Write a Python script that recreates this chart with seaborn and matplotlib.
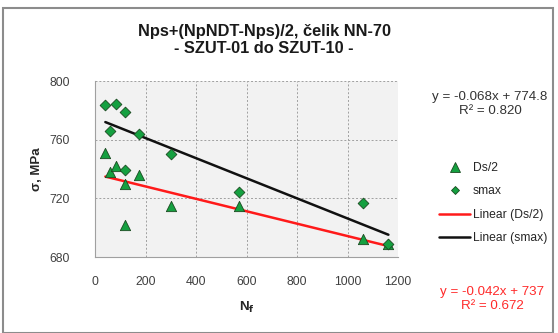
import numpy as np
import pandas as pd
import matplotlib
matplotlib.use("Agg")
import matplotlib.pyplot as plt
import seaborn as sns
from matplotlib.lines import Line2D
from matplotlib.patches import Rectangle

# ---- data ----
nf = [41, 84, 117, 61, 173, 120, 300, 569, 1063, 1162]
smax = [783.6, 784.0, 779.0, 766.0, 763.6, 739.5, 750.0, 724.0, 716.5, 689.0]
nf_ds = [41, 61, 84, 117, 120, 173, 300, 569, 1063, 1162]
ds2 = [751.0, 738.0, 742.0, 730.0, 702.0, 736.0, 714.7, 715.0, 692.0, 689.0]
x_ticks = [0, 200, 400, 600, 800, 1000, 1200]
y_ticks = [680, 720, 760, 800]
title = "Nps+(NpNDT-Nps)/2, čelik NN-70\n- SZUT-01 do SZUT-10 -"
eq_smax = "y = -0.068x + 774.8\nR² = 0.820"
eq_ds = "y = -0.042x + 737\nR² = 0.672"

df_s = pd.DataFrame({"Nf": nf, "sigma": smax})
df_d = pd.DataFrame({"Nf": nf_ds, "sigma": ds2})

sns.set_style("white")
plt.rcParams["font.family"] = ["Liberation Sans", "DejaVu Sans"]

W, H = 558, 333
fig = plt.figure(figsize=(W / 100, H / 100), dpi=100)
# plot area: x 95..398, y 81..257 (pixels)
ax = fig.add_axes([95 / W, 1 - 257 / H, (398 - 95) / W, (257 - 81) / H])
ax.set_facecolor("#f2f2f2")

green = "#15a040"
sns.regplot(data=df_d, x="Nf", y="sigma", scatter=False, ci=None, truncate=True,
            color="#ff1a1a", line_kws={"lw": 1.8}, ax=ax)
sns.regplot(data=df_s, x="Nf", y="sigma", scatter=False, ci=None, truncate=True,
            color="#111111", line_kws={"lw": 1.8}, ax=ax)
sns.scatterplot(data=df_d, x="Nf", y="sigma", marker="^", s=55, color=green,
                edgecolor="#1a4a20", linewidth=0.6, ax=ax, zorder=5)
sns.scatterplot(data=df_s, x="Nf", y="sigma", marker="D", s=30, color=green,
                edgecolor="#1a4a20", linewidth=0.6, ax=ax, zorder=5)

ax.set_xlim(0, 1200)
ax.set_ylim(680, 800)
ax.set_xticks(x_ticks)
ax.set_yticks(y_ticks)
ax.grid(True, color="#a0a0a0", linestyle=(0, (2, 2)), linewidth=0.7)
for s in ["top", "right"]:
    ax.spines[s].set_visible(False)
ax.spines["left"].set_color("#a0a0a0")
ax.spines["bottom"].set_color("#a0a0a0")
ax.tick_params(axis="both", length=4, color="#a0a0a0", labelsize=8.8,
               labelcolor="#404040", direction="inout")
ax.tick_params(axis="y", pad=16)
ax.tick_params(axis="x", pad=12)
ax.set_xlabel("N$_\\mathbf{f}$", fontsize=9.5, fontweight="bold", labelpad=8)
ax.set_ylabel("σ, MPa", fontsize=9.5, fontweight="bold", labelpad=5)

fig.text(264 / W, 1 - 40 / H, title, ha="center", va="center", fontsize=11.8,
         fontweight="semibold", color="#1a1a1a", linespacing=1.2)

fig.text(490 / W, 1 - 104 / H, eq_smax, ha="center", va="center", fontsize=9.6,
         color="#333333", linespacing=1.3)
fig.text(492 / W, 1 - 299 / H, eq_ds, ha="center", va="center", fontsize=9.6,
         color="#ff2a2a", linespacing=1.3)

handles = [
    Line2D([], [], marker="^", ls="none", color=green, markeredgecolor="#1a4a20",
           markersize=6.5, markeredgewidth=0.6),
    Line2D([], [], marker="D", ls="none", color=green, markeredgecolor="#1a4a20",
           markersize=4.5, markeredgewidth=0.6),
    Line2D([], [], color="#ff1a1a", lw=1.8),
    Line2D([], [], color="#111111", lw=1.8),
]
labels = ["Ds/2", "smax", "Linear (Ds/2)", "Linear (smax)"]
fig.legend(handles, labels, loc="center left", bbox_to_anchor=(434 / W, 1 - 203 / H),
           frameon=False, fontsize=8.7, handlelength=2.6, handletextpad=0.2,
           labelspacing=0.95, borderaxespad=0)

fig.patches.append(Rectangle((3 / W, 0), (553 - 3) / W, 1 - 8 / H, transform=fig.transFigure,
                             fill=False, edgecolor="#8c8c8c", lw=1.5))

fig.savefig("out.png", dpi=100)
